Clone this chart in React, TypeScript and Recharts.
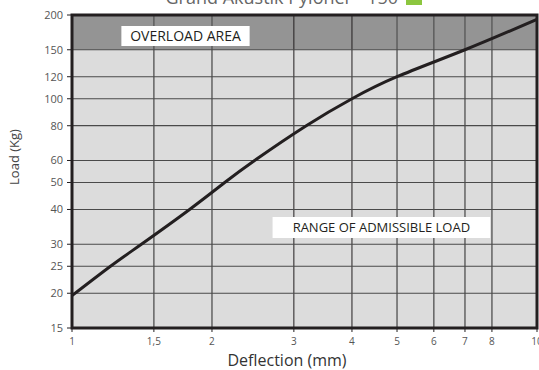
import React from 'react';
import {
  LineChart,
  Line,
  XAxis,
  YAxis,
  ReferenceArea,
  ReferenceLine,
} from 'recharts';

// curve (log-log)
const deflection = [1, 1.21, 1.41, 1.79, 2.13, 2.47, 3.19, 4, 5, 7, 10];
const load = [19.6, 25, 30, 40, 50, 60, 80, 100, 120, 150, 193];

const xTicks = [1, 1.5, 2, 3, 4, 5, 6, 7, 8, 10];
const yTicks = [15, 20, 25, 30, 40, 50, 60, 80, 100, 120, 150, 200];

const xDomain = [1, 10];
const yDomain = [15, 200];
const overloadFrom = 150;

const FONT = '"Open Sans", "Noto Sans", sans-serif';
const INK = '#231f20';

const data = deflection.map((d, i) => ({ deflection: d, load: load[i] }));

export default function App() {
  return (
    <div style={{ position: 'absolute', left: 0, top: 0, width: 539, height: 370, fontFamily: FONT }}>
      <LineChart
        width={539}
        height={370}
        data={data}
        margin={{ top: 15, right: 2, left: 0, bottom: 0 }}
      >
        <XAxis
          dataKey="deflection"
          type="number"
          scale="log"
          domain={xDomain}
          ticks={xTicks}
          allowDataOverflow
          axisLine={false}
          tickLine={{ stroke: INK }}
          tickSize={4}
          tickMargin={6}
          height={42}
          interval={0}
          tick={{ fontSize: 10, fill: '#555', fontFamily: FONT }}
          tickFormatter={(v: number) => String(v).replace('.', ',')}
        />
        <YAxis
          type="number"
          scale="log"
          domain={yDomain}
          ticks={yTicks}
          allowDataOverflow
          axisLine={false}
          tickLine={{ stroke: INK }}
          tickSize={5}
          tickMargin={4}
          width={72}
          interval={0}
          tick={{ fontSize: 11, fill: '#555', fontFamily: FONT }}
        />
        <ReferenceArea
          x1={xDomain[0]}
          x2={xDomain[1]}
          y1={yDomain[0]}
          y2={overloadFrom}
          fill="#dcdcdc"
          fillOpacity={1}
          stroke="none"
          zIndex={50}
        />
        <ReferenceArea
          x1={xDomain[0]}
          x2={xDomain[1]}
          y1={overloadFrom}
          y2={yDomain[1]}
          fill="#949494"
          fillOpacity={1}
          stroke="none"
          zIndex={50}
        />
        {xTicks.slice(1, -1).map((t) => (
          <ReferenceLine
            key={'x' + t}
            x={t}
            stroke={t === 3 || t === 4 ? INK : '#5a5a5a'}
            strokeWidth={t === 3 || t === 4 ? 1 : 1.4}
            zIndex={300}
          />
        ))}
        {yTicks.slice(1, -1).map((t) => (
          <ReferenceLine key={'y' + t} y={t} stroke="#4a4a4a" strokeWidth={1.2} zIndex={300} />
        ))}
        <ReferenceArea
          x1={1.277}
          x2={2.41}
          y1={154.7}
          y2={182.6}
          fill="#ffffff"
          fillOpacity={1}
          stroke="none"
          zIndex={450}
          label={{ value: 'OVERLOAD AREA', position: 'center', fill: INK, fontSize: 14, fontFamily: FONT }}
        />
        <ReferenceArea
          x1={2.7}
          x2={7.93}
          y1={31.6}
          y2={37.6}
          fill="#ffffff"
          fillOpacity={1}
          stroke="none"
          zIndex={450}
          label={{ value: 'RANGE OF ADMISSIBLE LOAD', position: 'center', fill: INK, fontSize: 13, fontFamily: FONT }}
        />
        <Line
          dataKey="load"
          type="natural"
          stroke={INK}
          strokeWidth={3}
          dot={false}
          activeDot={false}
          isAnimationActive={false}
          zIndex={400}
        />
        <ReferenceArea
          x1={xDomain[0]}
          x2={xDomain[1]}
          y1={yDomain[0]}
          y2={yDomain[1]}
          fill="none"
          stroke={INK}
          strokeWidth={3}
          zIndex={600}
        />
      </LineChart>
      <svg
        width={539}
        height={370}
        style={{ position: 'absolute', left: 0, top: 0, pointerEvents: 'none' }}
      >
        <text x={398} y={4} textAnchor="end" fontSize={18} fill="#666" fontFamily={FONT}>
          Grand Akustik Pyloner - 150
        </text>
        <rect x={406} y={-12} width={16} height={17} fill="#8cc63f" />
        <text
          x={14}
          y={157}
          transform="rotate(-90 14 157)"
          textAnchor="middle"
          dominantBaseline="central"
          fontSize={13}
          fill="#444"
          fontFamily={FONT}
        >
          Load (Kg)
        </text>
        <text x={287} y={366} textAnchor="middle" fontSize={16} fill="#333" fontFamily={FONT}>
          Deflection (mm)
        </text>
      </svg>
    </div>
  );
}
